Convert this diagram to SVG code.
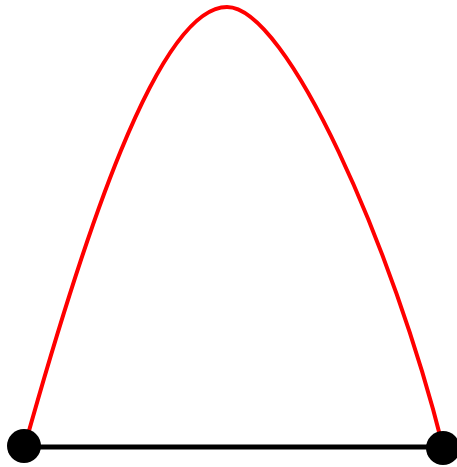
<svg xmlns="http://www.w3.org/2000/svg" width="457" height="467" viewBox="0 0 457 467">
<style>
.curve{fill:none;stroke:#ff0000;stroke-width:4}
.edge{stroke:#000;stroke-width:5}
.dot{fill:#000}
</style>
<g id="connectors">
<path class="curve" d="M25,445 C81,245 157,7 227,7 C287,7 393,247 443,447"/>
<line class="edge" x1="25" y1="447" x2="443" y2="447"/>
</g>
<g id="nodeA"><circle class="dot" cx="24" cy="446" r="17"/></g>
<g id="nodeB"><circle class="dot" cx="443" cy="448" r="17"/></g>
</svg>
